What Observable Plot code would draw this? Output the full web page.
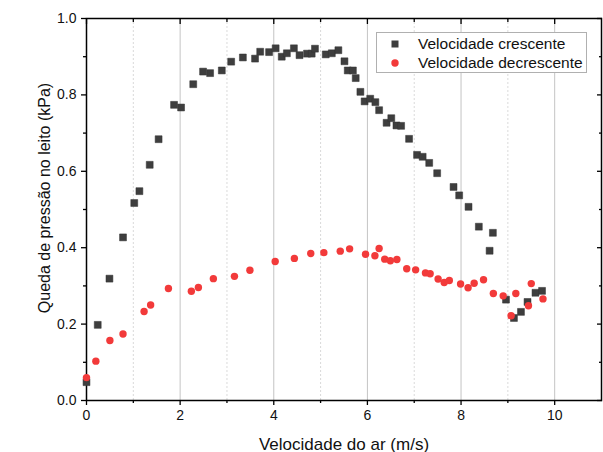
<!DOCTYPE html>
<html>
<head>
<meta charset="utf-8">
<script src="https://cdn.jsdelivr.net/npm/d3@7"></script>
<script src="https://cdn.jsdelivr.net/npm/@observablehq/plot@0.6"></script>
<style>
  body { margin: 0; background: #fff; }
  #wrap { position: relative; width: 603px; height: 452px; font-family: "Liberation Sans", Arial, sans-serif; }
  #legend { position: absolute; left: 376px; top: 32px; width: 211px; height: 41px; border: 1px solid #b0b0b0; background: #fff; box-sizing: border-box; font-size: 15.5px; color: #111; }
  .row { position: absolute; left: 0; height: 20px; display: flex; align-items: center; white-space: nowrap; }
  .row svg { margin-left: 14px; margin-right: 19px; }
  #ylabel { position: absolute; left: 44.5px; top: 198px; transform: translate(-50%, -50%) rotate(-90deg); white-space: nowrap; font-size: 16px; color: #111; }
</style>
</head>
<body>
<div id="wrap">
  <div id="chart"></div>
  <div id="ylabel"></div>
  <div id="legend"></div>
</div>
<script>
// Velocidade crescente
const xCres = [0.00,0.24,0.49,0.78,1.02,1.13,1.35,1.54,1.87,2.02,2.28,2.49,2.64,2.89,3.09,3.34,3.60,3.71,3.90,4.04,4.17,4.28,4.43,4.55,4.71,4.81,4.88,5.11,5.24,5.38,5.51,5.58,5.69,5.75,5.85,5.94,6.06,6.17,6.25,6.41,6.51,6.62,6.72,6.89,7.06,7.18,7.32,7.49,7.84,7.96,8.16,8.38,8.61,8.68,8.96,9.13,9.28,9.42,9.59,9.73];
const yCres = [0.048,0.198,0.319,0.427,0.517,0.548,0.617,0.684,0.774,0.767,0.828,0.861,0.857,0.864,0.887,0.898,0.895,0.913,0.912,0.922,0.900,0.909,0.922,0.904,0.908,0.908,0.921,0.906,0.909,0.917,0.888,0.864,0.864,0.844,0.808,0.783,0.790,0.781,0.760,0.727,0.739,0.720,0.719,0.685,0.643,0.638,0.622,0.595,0.559,0.537,0.507,0.455,0.392,0.439,0.264,0.216,0.232,0.258,0.282,0.287];
// Velocidade decrescente
const xDec = [0.00,0.20,0.50,0.78,1.23,1.37,1.75,2.24,2.39,2.71,3.16,3.49,4.03,4.44,4.79,5.07,5.42,5.62,5.96,6.16,6.25,6.37,6.49,6.63,6.84,7.03,7.24,7.34,7.51,7.64,7.75,7.99,8.15,8.28,8.48,8.69,8.90,9.07,9.17,9.44,9.50,9.75];
const yDec = [0.060,0.103,0.157,0.174,0.233,0.250,0.293,0.286,0.296,0.319,0.325,0.341,0.364,0.372,0.385,0.387,0.391,0.397,0.383,0.379,0.398,0.370,0.366,0.369,0.345,0.342,0.334,0.332,0.318,0.309,0.314,0.305,0.295,0.307,0.316,0.280,0.274,0.222,0.280,0.248,0.306,0.266];

const seriesNames = ["Velocidade crescente", "Velocidade decrescente"];
const seriesColors = ["#3e3e3e", "#f23a3a"];
const xMajor = [0, 2, 4, 6, 8, 10];
const xMinor = [1, 3, 5, 7, 9];
const yMajor = [0, 0.2, 0.4, 0.6, 0.8, 1.0];
const yMinor = [0.1, 0.3, 0.5, 0.7, 0.9];
const xLabel = "Velocidade do ar (m/s)";
const yLabel = "Queda de pressão no leito (kPa)";

const cres = xCres.map((x, i) => ({x, y: yCres[i]}));
const dec = xDec.map((x, i) => ({x, y: yDec[i]}));
const blank = () => "";

const chart = Plot.plot({
  width: 603,
  height: 452,
  marginLeft: 86,
  marginRight: 2,
  marginTop: 18,
  marginBottom: 52,
  style: {fontFamily: '"Liberation Sans", Arial, sans-serif', fontSize: "14px", color: "#111", background: "#fff"},
  x: {domain: [0, 11]},
  y: {domain: [0, 1]},
  marks: [
    Plot.ruleX(xMajor.filter(d => d > 0), {stroke: "#c4c4c4", strokeWidth: 1}),
    Plot.ruleX(xMinor, {stroke: "#dadada", strokeWidth: 1, strokeDasharray: "2,2"}),
    Plot.axisX(xMajor, {anchor: "bottom", tickSize: 5, tickPadding: 5, fontSize: 14, stroke: "#000", strokeWidth: 1.3, label: null}),
    Plot.axisX({anchor: "bottom", ticks: [], label: xLabel, labelAnchor: "center", labelArrow: "none", labelOffset: 49, fontSize: 17}),
    Plot.axisX(xMinor, {anchor: "bottom", tickSize: 3, tickFormat: blank, label: null, stroke: "#000", strokeWidth: 1.3}),
    Plot.axisX(xMajor, {anchor: "top", tickSize: -5, tickFormat: blank, label: null, stroke: "#000", strokeWidth: 1.3}),
    Plot.axisX(xMinor, {anchor: "top", tickSize: -3, tickFormat: blank, label: null, stroke: "#000", strokeWidth: 1.3}),
    Plot.axisY(yMajor, {anchor: "left", tickSize: 5, tickPadding: 5, fontSize: 14, tickFormat: d3.format(".1f"), stroke: "#000", strokeWidth: 1.3, label: null}),
    Plot.axisY(yMinor, {anchor: "left", tickSize: 3, tickFormat: blank, label: null, stroke: "#000", strokeWidth: 1.3}),
    Plot.axisY(yMajor, {anchor: "right", tickSize: -5, tickFormat: blank, label: null, stroke: "#000", strokeWidth: 1.3}),
    Plot.axisY(yMinor, {anchor: "right", tickSize: -3, tickFormat: blank, label: null, stroke: "#000", strokeWidth: 1.3}),
    Plot.frame({stroke: "#000", strokeWidth: 1.5}),
    Plot.dot(cres, {x: "x", y: "y", symbol: "square", r: 3.9, fill: seriesColors[0], stroke: "#333", strokeWidth: 0.5}),
    Plot.dot(dec, {x: "x", y: "y", symbol: "circle", r: 3.7, fill: seriesColors[1]})
  ]
});
document.getElementById("chart").appendChild(chart);
document.getElementById("ylabel").textContent = yLabel;

// legend
const legend = document.getElementById("legend");
seriesNames.forEach((name, i) => {
  const row = document.createElement("div");
  row.className = "row";
  row.style.top = (i === 0 ? 1 : 20) + "px";
  const sym = i === 0
    ? `<svg width="8" height="8"><rect x="0.5" y="0.5" width="7" height="7" fill="${seriesColors[0]}"/></svg>`
    : `<svg width="8" height="8"><circle cx="4" cy="4" r="3.7" fill="${seriesColors[1]}"/></svg>`;
  row.innerHTML = sym + `<span>${name}</span>`;
  legend.appendChild(row);
});
</script>
</body>
</html>
